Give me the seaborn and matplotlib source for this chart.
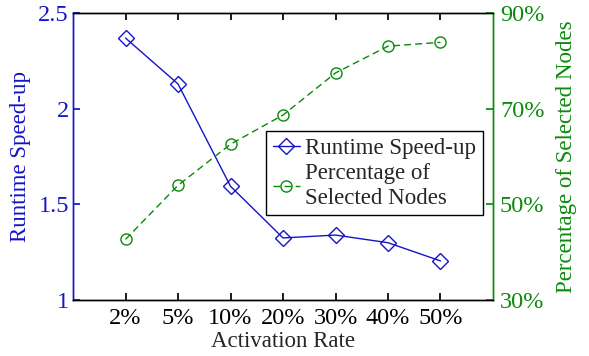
import matplotlib
matplotlib.use("Agg")
import matplotlib.pyplot as plt
import seaborn as sns
import pandas as pd

# Data
rates = ["2%", "5%", "10%", "20%", "30%", "40%", "50%"]
speedup = [2.37, 2.13, 1.595, 1.325, 1.34, 1.30, 1.205]
selected_pct = [42.7, 54.0, 62.6, 68.7, 77.5, 83.1, 83.9]

BLUE = "#1414c8"
GREEN = "#0a8a0a"

sns.set_theme(style="ticks")
plt.rcParams["font.family"] = ["Liberation Serif", "DejaVu Serif"]

df = pd.DataFrame({"pos": range(1, len(rates) + 1), "speedup": speedup,
                   "pct": selected_pct})

fig, ax = plt.subplots(figsize=(5.89, 3.56), dpi=100)
ax2 = ax.twinx()

sns.lineplot(data=df, x="pos", y="speedup", ax=ax, color=BLUE, lw=1.0,
             marker="D", markersize=8, markerfacecolor="none",
             markeredgecolor=BLUE, markeredgewidth=1.0,
             label="Runtime Speed-up", legend=False)
sns.lineplot(data=df, x="pos", y="pct", ax=ax2, color=GREEN, lw=1.0,
             linestyle=(0, (5, 3)), marker="o", markersize=8,
             markerfacecolor="none", markeredgecolor=GREEN,
             markeredgewidth=1.0,
             label="Percentage of\nSelected Nodes", legend=False)

ax.set_xlim(0, 8)
ax.set_ylim(1, 2.5)
ax.set_yticks([1, 1.5, 2, 2.5])
ax.set_yticklabels(["1", "1.5", "2", "2.5"])
ax.set_xticks(range(1, len(rates) + 1))
ax.set_xticklabels(rates)
ax2.set_ylim(30, 90)
ax2.set_yticks([30, 50, 70, 90])
ax2.set_yticklabels(["30%", "50%", "70%", "90%"])

fs = 16.5
tfs = 17.5
ax.set_xlabel("Activation Rate", fontsize=fs, labelpad=1)
ax.set_ylabel("Runtime Speed-up", fontsize=fs, color=BLUE, labelpad=5)
ax2.set_ylabel("Percentage of Selected Nodes", fontsize=fs, color=GREEN,
               labelpad=8)

ax.tick_params(axis="x", direction="in", top=True, labelsize=tfs, length=5,
               colors="black", pad=6)
ax.tick_params(axis="y", direction="in", labelsize=tfs, length=5,
               colors=BLUE, pad=3)
ax2.tick_params(axis="y", direction="in", labelsize=tfs, length=5,
                colors=GREEN, pad=5)

for a in (ax, ax2):
    a.spines["top"].set_color("black")
    a.spines["bottom"].set_color("black")
    a.spines["left"].set_color(BLUE)
    a.spines["right"].set_color(GREEN)
    for s in a.spines.values():
        s.set_linewidth(1.0)

h1, l1 = ax.get_legend_handles_labels()
h2, l2 = ax2.get_legend_handles_labels()
leg = ax2.legend(h1 + h2, l1 + l2, loc="upper left",
                 bbox_to_anchor=(0.459, 0.59), fontsize=fs,
                 handlelength=1.2, handletextpad=0.2, borderpad=0.3,
                 borderaxespad=0, labelspacing=0.2, fancybox=False,
                 framealpha=1, edgecolor="black")
leg.get_frame().set_linewidth(1.0)

fig.subplots_adjust(left=0.124, right=0.837, top=0.963, bottom=0.157)
fig.savefig("out.png", dpi=100)
